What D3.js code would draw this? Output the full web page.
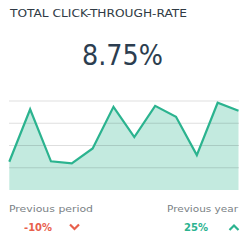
<!DOCTYPE html>
<html><head><meta charset="utf-8">
<script src="https://cdn.jsdelivr.net/npm/d3@7"></script>
<style>html,body{margin:0;padding:0;background:#fff;}svg{display:block;}</style>
</head><body>
<svg id="c" width="250" height="250"></svg>
<script>
const title = "TOTAL CLICK-THROUGH-RATE";
const kpiValue = "8.75%";
const periods = [1,2,3,4,5,6,7,8,9,10,11,12];
const values = [1.27,3.63,1.29,1.2,1.87,3.74,2.38,3.78,3.29,1.57,3.92,3.56];
const yTicks = [1,2,3,4];
const compareLabels = ["Previous period","Previous year"];
const compareValues = ["-10%","25%"];

const svg = d3.select("#c");
const font = "'DejaVu Sans', sans-serif";
const teal = "#2bb38f", red = "#e8604c";

svg.append("text").attr("x",10).attr("y",17).attr("font-family",font).attr("font-size",10)
  .attr("fill","#2f3a44").attr("textLength",177).attr("lengthAdjust","spacingAndGlyphs").text(title);
svg.append("text").attr("x",122.5).attr("y",65).attr("text-anchor","middle").attr("font-family",font)
  .attr("font-size",29).attr("fill","#2c3e50").attr("textLength",81).attr("lengthAdjust","spacingAndGlyphs").text(kpiValue);

const x = d3.scalePoint().domain(periods).range([9.3,238.5]);
const y = d3.scaleLinear().domain([0,4]).range([190,101]);

const area = d3.area().x((d,i)=>x(periods[i])).y0(y(0)).y1(d=>y(d));
const line = d3.line().x((d,i)=>x(periods[i])).y(d=>y(d));

svg.append("path").datum(values).attr("d",area).attr("fill","#c3eadf");
svg.append("g").selectAll("line").data(yTicks).join("line")
  .attr("x1",9).attr("x2",239).attr("y1",d=>y(d)).attr("y2",d=>y(d))
  .attr("stroke","#000").attr("stroke-opacity",0.13).attr("stroke-width",1);
svg.append("path").datum(values).attr("d",line).attr("fill","none").attr("stroke",teal).attr("stroke-width",2.2).attr("stroke-linejoin","miter");

svg.append("text").attr("x",9).attr("y",212).attr("font-family",font).attr("font-size",9.5).attr("fill","#7a7f85")
  .attr("textLength",84).attr("lengthAdjust","spacingAndGlyphs").text(compareLabels[0]);
svg.append("text").attr("x",238).attr("y",212).attr("text-anchor","end").attr("font-family",font).attr("font-size",9.5).attr("fill","#7a7f85")
  .attr("textLength",71).attr("lengthAdjust","spacingAndGlyphs").text(compareLabels[1]);

svg.append("text").attr("x",24).attr("y",231).attr("font-family",font).attr("font-size",10).attr("font-weight","bold").attr("fill",red)
  .attr("textLength",28).attr("lengthAdjust","spacingAndGlyphs").text(compareValues[0]);
svg.append("text").attr("x",184).attr("y",231).attr("font-family",font).attr("font-size",10).attr("font-weight","bold").attr("fill",teal)
  .attr("textLength",24).attr("lengthAdjust","spacingAndGlyphs").text(compareValues[1]);

svg.append("path").attr("d","M70,224.5 L74.5,229 L79,224.5").attr("fill","none").attr("stroke",red).attr("stroke-width",2.2);
svg.append("path").attr("d","M229.5,230 L234,225.5 L238.5,230").attr("fill","none").attr("stroke",teal).attr("stroke-width",2.2);
</script>
</body></html>
